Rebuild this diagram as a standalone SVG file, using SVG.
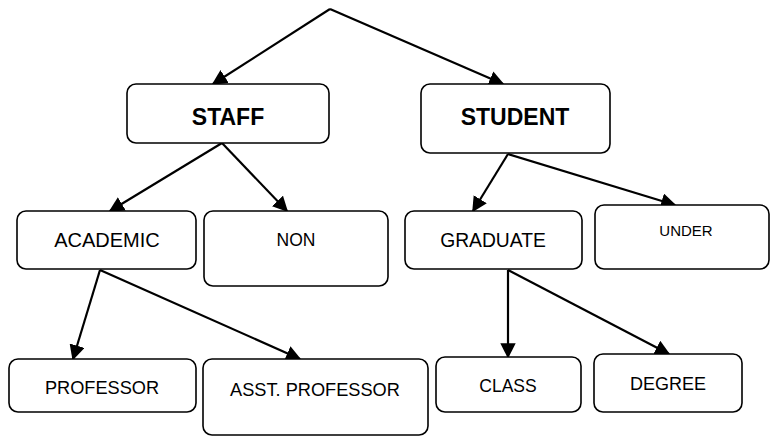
<svg xmlns="http://www.w3.org/2000/svg" width="771" height="436" viewBox="0 0 771 436">
<style>
.box{fill:#fff;stroke:#000;stroke-width:1.6}
.lbl{font-family:"Liberation Sans",Arial,sans-serif;fill:#000;text-anchor:middle}
.b{font-weight:bold}
.con line{stroke:#000;stroke-width:2.2;marker-end:url(#ah)}
</style>
<defs>
<marker id="ah" viewBox="0 0 10 10" refX="9" refY="5" markerWidth="7" markerHeight="7" markerUnits="strokeWidth" orient="auto">
<path d="M0,0 L10,5 L0,10 z" fill="#000"/>
</marker>
</defs>
<rect width="771" height="436" fill="#fff"/>
<g id="connectors" class="con">
<line x1="330" y1="9" x2="213" y2="84"/>
<line x1="330" y1="9" x2="503" y2="84"/>
<line x1="222" y1="143" x2="110" y2="211"/>
<line x1="222" y1="143" x2="287" y2="211"/>
<line x1="508" y1="154" x2="473" y2="211"/>
<line x1="508" y1="154" x2="675" y2="205"/>
<line x1="100" y1="270" x2="73" y2="359"/>
<line x1="100" y1="270" x2="300" y2="359"/>
<line x1="508" y1="270" x2="508" y2="357"/>
<line x1="508" y1="270" x2="669" y2="354"/>
</g>
<g id="staff"><rect class="box" x="127" y="84" width="202" height="59" rx="9"/><text class="lbl b" x="228" y="125" font-size="23">STAFF</text></g>
<g id="student"><rect class="box" x="421" y="84" width="189" height="69" rx="9"/><text class="lbl b" x="515" y="125" font-size="23">STUDENT</text></g>
<g id="academic"><rect class="box" x="17" y="211" width="179" height="58" rx="9"/><text class="lbl" x="107" y="247" font-size="20">ACADEMIC</text></g>
<g id="non"><rect class="box" x="204" y="211" width="184" height="75" rx="9"/><text class="lbl" x="296" y="246" font-size="17.5">NON</text></g>
<g id="graduate"><rect class="box" x="405" y="211" width="177" height="58" rx="9"/><text class="lbl" x="493" y="247" font-size="19.3">GRADUATE</text></g>
<g id="under"><rect class="box" x="595" y="205" width="174" height="64" rx="9"/><text class="lbl" x="686" y="236" font-size="15">UNDER</text></g>
<g id="professor"><rect class="box" x="9" y="359" width="187" height="53" rx="9"/><text class="lbl" x="102" y="394" font-size="18.2">PROFESSOR</text></g>
<g id="asst-professor"><rect class="box" x="203" y="359" width="225" height="76" rx="9"/><text class="lbl" x="315" y="396" font-size="18.2">ASST. PROFESSOR</text></g>
<g id="class"><rect class="box" x="436" y="357" width="145" height="55" rx="9"/><text class="lbl" x="508" y="392" font-size="17.5">CLASS</text></g>
<g id="degree"><rect class="box" x="594" y="354" width="148" height="58" rx="9"/><text class="lbl" x="668" y="390" font-size="18">DEGREE</text></g>
</svg>
